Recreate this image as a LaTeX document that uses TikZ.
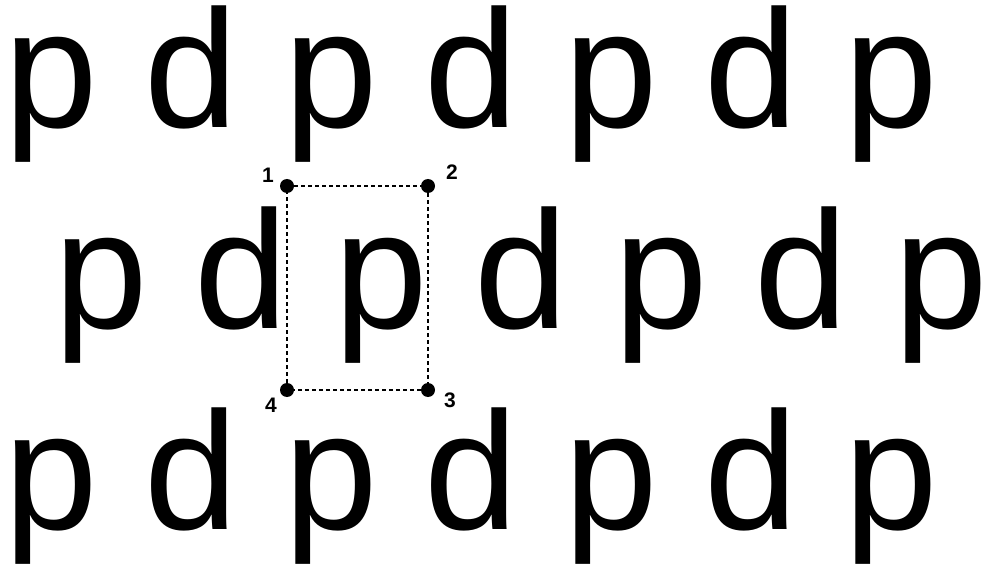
\documentclass[tikz,border=0pt]{standalone}
\usepackage{fontspec}
\setmainfont{Liberation Sans}
\usepackage{tikz}

\begin{document}
\begin{tikzpicture}[x=1pt, y=1pt,
    glyph/.style={anchor=base west, inner sep=0pt, font=\fontsize{168}{168}\selectfont},
    corner/.style={circle, fill=black, inner sep=0pt, minimum size=14pt},
    num/.style={inner sep=0pt, font=\bfseries\fontsize{21}{21}\selectfont}]
\useasboundingbox (0,0) rectangle (986,566);
\foreach \r/\x/\y in {1/4/438, 2/54/238, 3/4/37} {
    \foreach \i/\ch in {0/p, 1/d, 2/p, 3/d, 4/p, 5/d, 6/p}
        \node[glyph] (g\r\i) at ({\x+140*\i}, \y) {\ch};
}
\node[corner] (c1) at (287,380) {};
\node[corner] (c2) at (428,380) {};
\node[corner] (c3) at (428,176) {};
\node[corner] (c4) at (287,176) {};
\draw[line width=1.2pt, dash pattern=on 4pt off 3pt] (c1) -- (c2) -- (c3) -- (c4) -- (c1);
\node[num] (n1) at ([shift={(-19,11)}]c1) {1};
\node[num] (n2) at ([shift={(24,14)}]c2) {2};
\node[num] (n3) at ([shift={(22,-10)}]c3) {3};
\node[num] (n4) at ([shift={(-16,-15)}]c4) {4};
\end{tikzpicture}
\end{document}
